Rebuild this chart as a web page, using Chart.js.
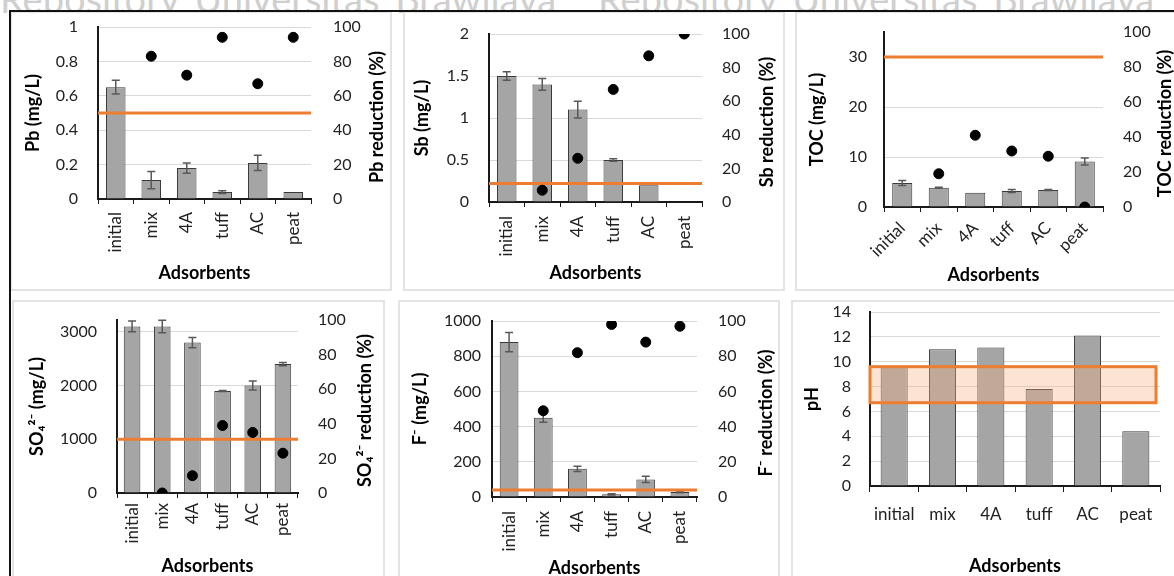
<!DOCTYPE html>
<html>
<head>
<meta charset="utf-8">
<script src="https://cdn.jsdelivr.net/npm/chart.js@4.4.0/dist/chart.umd.min.js"></script>
<style>
  body { margin: 0; width: 1174px; height: 576px; overflow: hidden; background: #fff; position: relative; font-family: Lato, sans-serif; }
  .wm { position: absolute; top: -25px; font-size: 38px; color: #cfcfcf; white-space: nowrap; word-spacing: 6px; }
  .box { position: absolute; background: #fff; border: 2px solid #e3e3e3; box-sizing: border-box; }
  .frame { position: absolute; background: #111; }
  canvas { position: absolute; }
</style>
</head>
<body>
<div class="wm" style="left:0px">Repository Universitas Brawijaya</div>
<div class="wm" style="left:598px">Repository Universitas Brawijaya</div>

<div class="box" style="left:10px;top:11px;width:382px;height:280px"></div>
<div class="box" style="left:403px;top:11px;width:382px;height:280px"></div>
<div class="box" style="left:795px;top:11px;width:400px;height:280px"></div>
<div class="box" style="left:12px;top:300px;width:373px;height:300px"></div>
<div class="box" style="left:398px;top:300px;width:382px;height:300px"></div>
<div class="box" style="left:791px;top:300px;width:400px;height:300px"></div>
<div class="frame" style="left:9px;top:10px;width:1165px;height:2px"></div>
<div class="frame" style="left:9px;top:10px;width:2px;height:566px"></div>

<canvas id="pb"></canvas>
<canvas id="sb"></canvas>
<canvas id="toc"></canvas>
<canvas id="so4"></canvas>
<canvas id="f"></canvas>
<canvas id="ph"></canvas>

<script>
// data
const categories = ['initial', 'mix', '4A', 'tuff', 'AC', 'peat'];

const pbValues = [0.65, 0.11, 0.18, 0.04, 0.21, 0.04];
const pbErrors = [0.04, 0.05, 0.03, 0.008, 0.045, 0];
const pbReduction = [null, 83, 72, 94, 67, 94];
const pbLimit = 0.5;

const sbValues = [1.5, 1.4, 1.1, 0.5, 0.2, 0];
const sbErrors = [0.05, 0.07, 0.1, 0.015, 0, 0];
const sbReduction = [null, 7, 26, 67, 87, 100];
const sbLimit = 0.22;

const tocValues = [4.8, 3.85, 2.85, 3.2, 3.4, 9.1];
const tocErrors = [0.5, 0.1, 0, 0.3, 0.1, 0.7];
const tocReduction = [null, 19, 41, 32, 29, 0];
const tocLimit = 30;

const so4Values = [3100, 3100, 2800, 1900, 2000, 2400];
const so4Errors = [100, 115, 95, 10, 85, 30];
const so4Reduction = [null, 0, 10, 39, 35, 23];
const so4Limit = 1000;

const fValues = [880, 450, 160, 15, 100, 28];
const fErrors = [55, 25, 15, 3, 18, 4];
const fReduction = [null, 49, 82, 98, 88, 97];
const fLimit = 40;

const phValues = [9.6, 11.0, 11.15, 7.8, 12.1, 4.4];
const phRange = [6.7, 9.6];

Chart.defaults.font.family = 'Lato, sans-serif';
Chart.defaults.color = '#222';

const extras = {
  id: 'extras',
  afterDatasetDraw(chart, args, o) {
    if (args.index !== 0) return;
    const ctx = chart.ctx, ys = chart.scales.y, a = chart.chartArea;
    ctx.save();
    if (o.band) {
      const t = ys.getPixelForValue(o.band[1]), b = ys.getPixelForValue(o.band[0]);
      ctx.fillStyle = 'rgba(244,177,131,0.35)';
      ctx.fillRect(a.left, t, a.right - 4 - a.left, b - t);
      ctx.strokeStyle = '#ed7d31';
      ctx.lineWidth = 3;
      ctx.strokeRect(a.left, t, a.right - 4 - a.left, b - t);
    }
    if (o.errors) {
      const bars = chart.getDatasetMeta(0).data;
      const vals = chart.data.datasets[0].data;
      ctx.strokeStyle = '#595959';
      ctx.lineWidth = 1.5;
      o.errors.forEach((e, i) => {
        if (!e) return;
        const bx = bars[i].x;
        const top = ys.getPixelForValue(vals[i] + e), bot = ys.getPixelForValue(vals[i] - e);
        ctx.beginPath();
        ctx.moveTo(bx, top); ctx.lineTo(bx, bot);
        ctx.moveTo(bx - 4, top); ctx.lineTo(bx + 4, top);
        ctx.moveTo(bx - 4, bot); ctx.lineTo(bx + 4, bot);
        ctx.stroke();
      });
    }
    if (o.limit != null) {
      const ly = ys.getPixelForValue(o.limit);
      ctx.strokeStyle = '#ed7d31';
      ctx.lineWidth = 3;
      ctx.beginPath();
      ctx.moveTo(a.left, ly); ctx.lineTo(a.right, ly);
      ctx.stroke();
    }
    ctx.restore();
  },
  afterDraw(chart, args, o) {
    if (!o.rightTitle) return;
    const ctx = chart.ctx, a = chart.chartArea;
    ctx.save();
    ctx.translate(chart.width - o.rtOff, (a.top + a.bottom) / 2 + 4);
    ctx.rotate(-Math.PI / 2);
    ctx.font = 'bold 18px Lato';
    ctx.fillStyle = '#000';
    ctx.textAlign = 'center';
    ctx.textBaseline = 'middle';
    ctx.fillText(o.rightTitle, 0, 0);
    ctx.restore();
  }
};

// drop the tick-padding that chart.js adds above/below the plot
function noPad(s) {
  s.paddingTop = 0; s.paddingBottom = 0;
  s.paddingLeft = 0; s.paddingRight = 0;
}

function panel(id, c) {
  const [x, y, w, h] = c.box;
  const [L, T, R, B] = c.area;
  const el = document.getElementById(id);
  el.width = w; el.height = h;
  el.style.left = x + 'px'; el.style.top = y + 'px';

  const datasets = [{
    type: 'bar', data: c.values, yAxisID: 'y', order: 2,
    backgroundColor: '#a5a5a5', borderColor: '#3a3a3a', borderWidth: 1,
    barPercentage: c.barPct || 0.55, categoryPercentage: 1
  }];
  if (c.reduction) {
    datasets.push({
      type: 'line', data: c.reduction, yAxisID: 'y1', order: 1, showLine: false,
      pointRadius: 5, pointBackgroundColor: '#000', pointBorderColor: '#000'
    });
  }

  const scales = {
    x: {
      offset: true,
      grid: { offset: true, drawOnChartArea: false, drawTicks: true, tickLength: c.tickLen || 5, color: '#1a1a1a' },
      border: { color: '#1a1a1a', width: 2 },
      ticks: { color: '#222', font: { size: 17 }, minRotation: c.rot, maxRotation: c.rot, padding: c.xPad, autoSkip: false },
      title: { display: true, text: 'Adsorbents', color: '#000', font: { size: 18, weight: 'bold' }, padding: { top: 0, bottom: c.xtPad } },
      afterFit: s => { s.height = y + h - B; noPad(s); }
    },
    y: {
      position: 'left', min: 0, max: c.yMax,
      grid: { drawTicks: false, color: t => t.tick && t.tick.value === 0 ? 'rgba(0,0,0,0)' : '#d9d9d9' },
      border: { color: '#1a1a1a', width: 2 },
      ticks: { color: '#222', font: { size: 16 }, padding: c.yPad, callback: v => String(+v.toFixed(2)) },
      afterBuildTicks: s => {
        const t = [];
        for (let v = 0; v <= c.yTop + 1e-9; v += c.yStep) t.push({ value: +v.toFixed(4) });
        s.ticks = t;
      },
      title: { display: true, text: c.yTitle, color: '#000', font: { size: 18, weight: 'bold' }, padding: { top: c.ytPad, bottom: 0 } },
      afterFit: s => { s.width = L - x; noPad(s); }
    }
  };
  if (c.reduction) {
    scales.y1 = {
      position: 'right', min: 0, max: 100,
      grid: { display: false, drawTicks: false },
      border: { display: false },
      ticks: { stepSize: 20, color: '#222', font: { size: 16 }, padding: c.rPad },
      afterFit: s => { s.width = x + w - R; noPad(s); }
    };
  }

  return new Chart(el, {
    type: 'bar',
    data: { labels: categories, datasets: datasets },
    options: {
      responsive: false,
      animation: false,
      layout: { padding: { top: T - y, left: 0, right: c.reduction ? 0 : x + w - R, bottom: 0 } },
      plugins: {
        legend: { display: false },
        tooltip: { enabled: false },
        extras: { errors: c.errors, limit: c.limit, band: c.band, rightTitle: c.rTitle, rtOff: c.rtOff }
      },
      scales: scales
    },
    plugins: [extras]
  });
}

function drawAll() {
  panel('pb', {
    box: [10, 11, 382, 280], area: [98, 27, 311, 199],
    values: pbValues, errors: pbErrors, reduction: pbReduction, limit: pbLimit,
    yMax: 1, yStep: 0.2, yTop: 1, yTitle: 'Pb (mg/L)', rTitle: 'Pb reduction (%)',
    rot: 90, xPad: 8, xtPad: 7, ytPad: 12, yPad: 20, rPad: 22, rtOff: 15
  });
  panel('sb', {
    box: [403, 11, 382, 280], area: [489, 34, 702, 202],
    values: sbValues, errors: sbErrors, reduction: sbReduction, limit: sbLimit,
    yMax: 2, yStep: 0.5, yTop: 2, yTitle: 'Sb (mg/L)', rTitle: 'Sb reduction (%)',
    rot: 90, xPad: 9, xtPad: 7, ytPad: 8, yPad: 20, rPad: 20, rtOff: 18
  });
  panel('toc', {
    box: [795, 11, 379, 280], area: [884, 32, 1103, 207],
    values: tocValues, errors: tocErrors, reduction: tocReduction, limit: tocLimit,
    yMax: 35, yStep: 10, yTop: 30, yTitle: 'TOC (mg/L)', rTitle: 'TOC reduction (%)',
    rot: 45, xPad: 6, xtPad: 5, ytPad: 11, yPad: 17, rPad: 20, rtOff: 9
  });
  panel('so4', {
    box: [12, 300, 373, 286], area: [117, 320, 298, 493],
    values: so4Values, errors: so4Errors, reduction: so4Reduction, limit: so4Limit,
    yMax: 3220, yStep: 1000, yTop: 3000, yTitle: 'SO\u2084\u00B2\u207B (mg/L)', rTitle: 'SO\u2084\u00B2\u207B reduction (%)',
    rot: 90, xPad: 5, xtPad: 9, ytPad: 14, yPad: 20, rPad: 20, rtOff: 20
  });
  panel('f', {
    box: [398, 300, 382, 286], area: [492, 321, 697, 497],
    values: fValues, errors: fErrors, reduction: fReduction, limit: fLimit,
    yMax: 1000, yStep: 200, yTop: 1000, yTitle: 'F\u207B (mg/L)', rTitle: 'F\u207B reduction (%)',
    rot: 90, xPad: 9, xtPad: 7, ytPad: 11, yPad: 11, rPad: 21, rtOff: 14
  });
  panel('ph', {
    box: [791, 300, 383, 286], area: [870, 312, 1160, 486],
    values: phValues, band: phRange, barPct: 0.56,
    yMax: 14, yStep: 2, yTop: 14, yTitle: 'pH',
    rot: 0, xPad: 12, tickLen: 6, xtPad: 9, ytPad: 10, yPad: 19
  });
}

Promise.all([
  document.fonts.load('16px Lato'),
  document.fonts.load('bold 18px Lato')
]).then(drawAll, drawAll);
</script>
</body>
</html>
